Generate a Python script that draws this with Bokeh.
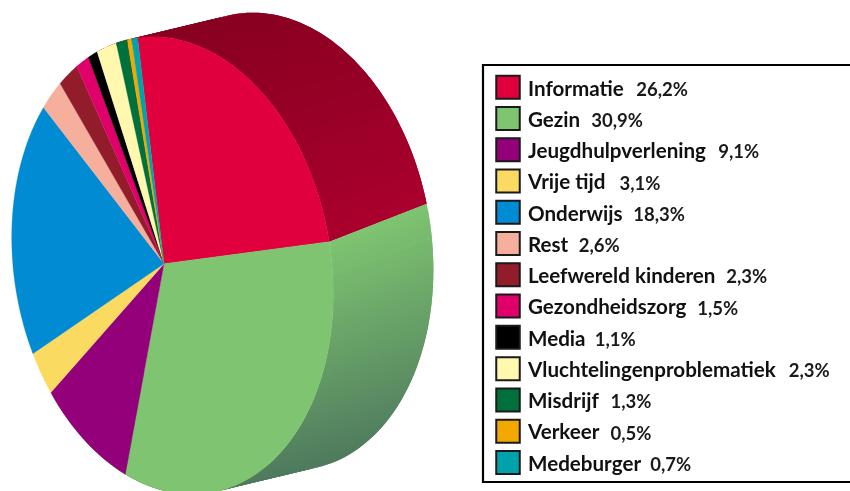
import numpy as np
from bokeh.plotting import figure
from bokeh.embed import file_html
from bokeh.resources import INLINE
from bokeh.core.properties import value

categories = ["Informatie","Gezin","Jeugdhulpverlening","Vrije tijd","Onderwijs","Rest","Leefwereld kinderen","Gezondheidszorg","Media","Vluchtelingenproblematiek","Misdrijf","Verkeer","Medeburger"]
shares = [26.2,30.9,9.1,3.1,18.3,2.6,2.3,1.5,1.1,2.3,1.3,0.5,0.7]
share_labels = ["26,2%","30,9%","9,1%","3,1%","18,3%","2,6%","2,3%","1,5%","1,1%","2,3%","1,3%","0,5%","0,7%"]
colors = ["#E0003D","#7FC571","#94007A","#FADA61","#008BD2","#F6AE9D","#931C2B","#E0006A","#000000","#FFF8AE","#00703C","#F3A800","#00A3AC"]
pct_x = [635.7,590.7,717.7,619,632.7,578.3,725.7,696.7,594.3,788.3,610,610,649.7]

cum = np.cumsum([0]+shares)/sum(shares)
CENTER = np.array([172.04,264.99])
AXES = np.array([[159.61,19.76],[0.0,228.79]])
WARP = [-1.66655,-0.07468,-0.03359,-0.02463,0.02570]
VERTEX = (163.5,263.3)
SHIFT = (100,-24)

def face(f):
    t = 2*np.pi*np.asarray(f,float)
    psi = t+WARP[0]+WARP[1]*np.sin(t)+WARP[2]*(np.cos(t)-1)+WARP[3]*np.sin(2*t)+WARP[4]*(np.cos(2*t)-1)
    q = AXES@np.vstack([np.cos(psi),np.sin(psi)])
    return q[0]+CENTER[0],q[1]+CENTER[1]

p = figure(width=850,height=491,x_range=(0,850),y_range=(491,0),output_backend="svg",toolbar_location=None,min_border=0,outline_line_color=None,styles={"position":"fixed","left":"0","top":"0"})
p.axis.visible = False; p.grid.visible = False

def lerp(a,b,w):
    return "#%02x%02x%02x"%tuple(int(round(a[i]+(b[i]-a[i])*w)) for i in range(3))

def strips(f0,f1,g0,g1,c0,c1,n,w0,w1):
    fs = np.linspace(f0,f1,n+1); gs = np.linspace(g0,g1,n+1)
    fx,fy = face(fs); bx,by = face(gs); bx = bx+SHIFT[0]; by = by+SHIFT[1]
    xs,ys,cs = [],[],[]
    for i in range(n):
        j = min(i+2,n)
        xs.append([fx[i],fx[i+1],fx[j],bx[j],bx[i+1],bx[i]])
        ys.append([fy[i],fy[i+1],fy[j],by[j],by[i+1],by[i]])
        d = 0.25*(fx[i]+bx[i])/2+(fy[i]+by[i])/2
        cs.append(lerp(c0,c1,np.clip((d-w0)/(w1-w0),0,1)))
    p.patches(xs,ys,fill_color=cs,line_color=None)

seam_f = cum[1]; seam_g = seam_f-0.009
strips(-0.05,seam_f,-0.05,seam_g,(0x88,0,0x20),(0xAA,0,0x2E),70,70,310)
strips(seam_f,0.66,seam_g,0.66,(0x7F,0xC5,0x71),(0x4F,0x7A,0x5E),90,310,545)

for i,c in enumerate(colors):
    fs = np.linspace(cum[i],cum[i+1],max(4,int(shares[i]*6)))
    x,y = face(fs)
    p.patch(np.r_[VERTEX[0],x],np.r_[VERTEX[1],y],fill_color=c,line_color=c,line_width=0.3)

# legend
p.quad(left=[482.5],right=[852],top=[64.5],bottom=[481.5],fill_color=None,line_color="#000000",line_width=2.2,line_join="miter")
ys = np.array([86.7+31.27*i for i in range(13)])
p.rect(x=[507.5]*13,y=ys,width=23.5,height=23,fill_color=colors,line_color="#1a1a1a",line_width=2,line_join="miter")
p.text(x=[527.5]*13,y=ys+0.3,text=categories,text_font=value("Lato"),text_font_style="bold",text_font_size="20.6px",text_baseline="middle",text_color="#111111")
p.text(x=pct_x,y=ys+1.5,text=share_labels,text_font=value("Lato"),text_font_style="bold",text_font_size="18.5px",text_baseline="middle",text_color="#1a1a1a")
open("out.html","w").write(file_html(p,INLINE))
